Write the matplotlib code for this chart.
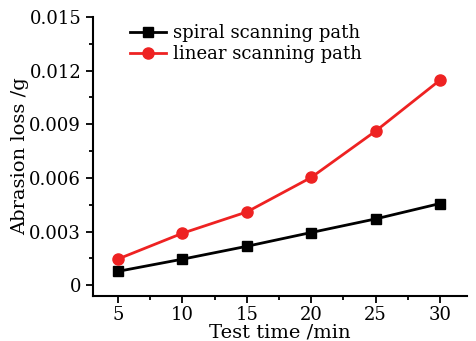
import matplotlib
matplotlib.use("Agg")
import matplotlib.pyplot as plt
from matplotlib.ticker import MultipleLocator

plt.rcParams['font.family'] = ['DejaVu Serif']

times = [5, 10, 15, 20, 25, 30]
spiral = [0.00078, 0.00146, 0.00218, 0.00295, 0.00371, 0.00457]
linear = [0.00147, 0.00291, 0.0041, 0.00603, 0.00862, 0.01147]

fig = plt.figure(figsize=(4.76, 3.41), dpi=100)
ax = fig.add_axes([93 / 476, 45 / 341, 374 / 476, 279 / 341])

ax.plot(times, spiral, color="black", marker="s", markersize=7, lw=2,
        label="spiral scanning path")
ax.plot(times, linear, color="#ee2222", marker="o", markersize=8, lw=2,
        label="linear scanning path")

ax.set_xlim(3.05, 32.1)
ax.set_ylim(-0.0006, 0.015)
ax.set_xticks(times)
ax.set_yticks([0, 0.003, 0.006, 0.009, 0.012, 0.015])
ax.set_yticklabels(["0", "0.003", "0.006", "0.009", "0.012", "0.015"])
ax.xaxis.set_minor_locator(MultipleLocator(2.5))
ax.yaxis.set_minor_locator(MultipleLocator(0.0015))

for s in ["top", "right"]:
    ax.spines[s].set_visible(False)
for s in ["left", "bottom"]:
    ax.spines[s].set_linewidth(1.5)
ax.tick_params(which="both", direction="out", width=1.3, labelsize=13)
ax.tick_params(which="major", length=5)
ax.tick_params(which="minor", length=3)
ax.tick_params(axis="x", pad=2)

ax.set_xlabel("Test time /min", fontsize=14, labelpad=0)
ax.set_ylabel("Abrasion loss /g", fontsize=14, labelpad=0)

ax.legend(loc="upper left", bbox_to_anchor=(0.08, 1.0), frameon=False,
          fontsize=13, handlelength=2.0, handletextpad=0.4, labelspacing=0.15,
          borderaxespad=0.0)

fig.savefig("out.png", dpi=100, facecolor="white")
